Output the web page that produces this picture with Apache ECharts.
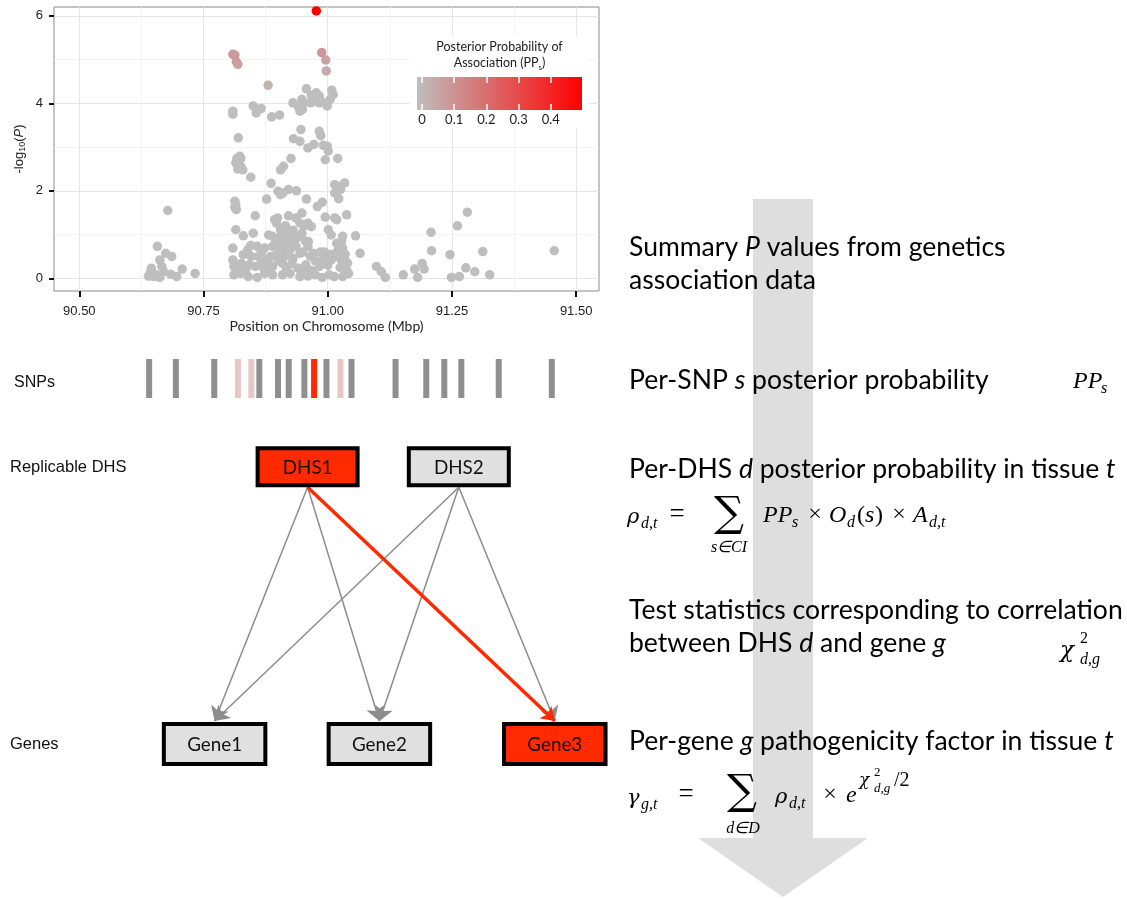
<!DOCTYPE html>
<html><head><meta charset="utf-8">
<script src="https://cdn.jsdelivr.net/npm/echarts@6/dist/echarts.min.js"></script>
<style>html,body{margin:0;padding:0;background:#fff}#c{width:1127px;height:899px}</style>
</head><body><div id="c"></div>
<script>
// ---------------- DATA ----------------
// SNP positions (Mbp), -log10(P), posterior probability of association
const posMbp = [
  90.678,90.657,90.674,90.686,90.662,90.645,90.639,90.650,90.662,90.670,90.684,90.696,90.707,90.733,90.643,90.666,90.655,
  90.809,90.809,90.820,90.823,90.815,90.825,90.829,90.819,90.813,90.815,90.816,90.813,90.815,90.809,90.809,90.811,90.811,90.819,90.817,90.825,
  90.850,90.858,90.866,90.856,90.887,90.903,90.845,90.886,90.905,90.911,90.926,90.900,90.905,90.921,90.937,90.910,90.877,90.854,90.921,90.948,
  90.957,90.931,90.944,90.946,90.930,90.940,90.948,90.949,90.952,90.957,90.944,90.966,90.967,90.977,90.983,90.987,90.983,90.975,90.999,91.008,
  91.011,91.005,90.960,90.972,90.983,90.986,90.991,90.999,91.001,90.995,91.020,91.014,91.022,91.034,91.014,91.022,91.026,91.018,90.979,90.989,
  90.995,91.018,91.038,91.014,90.960,90.967,90.944,90.936,90.952,91.001,91.007,91.030,91.056,91.065,90.830,90.850,90.881,90.893,90.899,90.928,
  90.948,90.961,90.897,90.905,90.913,90.889,90.917,90.936,90.830,90.839,90.846,90.858,90.866,90.873,90.885,90.889,90.897,90.905,90.913,90.924,
  90.936,90.944,90.960,90.971,90.993,91.010,91.020,91.028,91.035,90.826,90.842,90.854,90.866,90.877,90.889,90.909,90.917,90.928,90.940,90.956,
  90.967,90.983,90.995,91.007,91.014,91.022,91.030,91.034,91.038,90.825,90.840,90.858,90.873,90.889,90.909,90.924,90.944,90.960,90.975,90.989,
  91.003,91.013,91.030,91.042,90.900,90.912,90.920,90.895,90.870,90.880,90.975,90.990,91.000,91.025,91.040,90.950,90.930,
  91.025,91.032,91.018,91.028,91.005,90.985,90.905,90.915,90.930,90.940,90.925,90.955,90.870,90.860,90.845,90.835,90.900,90.918,90.950,90.965,
  91.098,91.108,91.116,91.152,91.175,91.181,91.190,91.194,91.208,91.209,91.246,91.249,91.265,91.261,91.281,91.278,91.296,91.312,91.326,91.456,
  90.880,90.997,90.819,90.816,90.996,90.813,90.809,90.988,90.977
];
const negLog10P = [
  1.55,0.73,0.57,0.50,0.42,0.23,0.05,0.04,0.02,0.15,0.09,0.04,0.21,0.11,0.15,0.27,0.08,
  3.82,3.75,3.21,2.79,2.64,2.56,2.48,2.50,1.76,1.68,1.57,1.62,1.11,0.69,0.42,0.27,0.08,0.19,2.74,2.74,
  3.94,3.86,3.88,3.78,3.69,3.73,2.31,2.17,2.48,2.56,2.74,1.99,1.91,2.03,2.00,1.95,1.81,1.43,1.43,1.49,
  1.81,3.19,3.13,3.40,4.01,3.94,4.09,3.86,4.01,4.33,3.82,4.01,4.18,4.24,4.17,4.05,4.01,4.15,3.94,4.30,
  4.20,4.09,2.98,3.06,3.36,3.26,3.04,3.02,2.91,2.71,2.74,2.14,2.10,2.18,1.95,1.82,2.03,1.99,1.64,1.74,
  1.40,1.34,1.45,1.38,1.26,1.18,1.26,1.38,1.20,1.11,0.99,0.96,0.97,0.57,0.97,1.03,0.99,1.34,1.38,1.03,
  1.03,0.84,1.26,1.11,1.05,0.96,0.92,0.90,0.54,0.65,0.50,0.73,0.57,0.69,0.50,0.73,0.54,0.69,0.50,0.65,
  0.73,0.57,0.73,0.57,0.60,0.52,0.62,0.70,0.55,0.34,0.31,0.27,0.34,0.19,0.27,0.34,0.23,0.34,0.23,0.31,
  0.18,0.27,0.34,0.42,0.50,0.57,0.69,0.42,0.19,0.11,0.04,0.02,0.11,0.08,0.08,0.11,0.04,0.05,0.08,0.02,
  0.08,0.04,0.04,0.11,0.88,0.80,0.75,0.80,0.45,0.35,0.40,0.45,0.30,0.25,0.35,0.60,0.45,
  0.45,0.30,0.80,0.85,0.55,0.60,0.95,1.20,1.10,0.95,0.85,0.85,0.25,0.50,0.75,0.20,0.40,0.58,0.15,0.50,
  0.27,0.15,0.02,0.08,0.21,0.02,0.34,0.21,1.05,0.63,0.54,0.02,0.04,1.20,1.51,0.24,0.15,0.61,0.08,0.63,
  4.41,4.74,4.89,4.95,4.99,5.10,5.12,5.16,6.11
];
const postProb = [
  0,0,0,0,0,0,0,0,0,0,0,0,0,0,0,0,0,
  0,0,0,0,0,0,0,0,0,0,0,0,0,0,0,0,0,0,0,0,
  0,0,0,0,0,0,0,0,0,0,0,0,0,0,0,0,0,0,0,0,
  0,0,0,0,0,0,0,0,0,0,0,0,0,0,0,0,0,0,0,0,
  0,0,0,0,0,0,0,0,0,0,0,0,0,0,0,0,0,0,0,0,
  0,0,0,0,0,0,0,0,0,0,0,0,0,0,0,0,0,0,0,0,
  0,0,0,0,0,0,0,0,0,0,0,0,0,0,0,0,0,0,0,0,
  0,0,0,0,0,0,0,0,0,0,0,0,0,0,0,0,0,0,0,0,
  0,0,0,0,0,0,0,0,0,0,0,0,0,0,0,0,0,0,0,0,
  0,0,0,0,0,0,0,0,0,0,0,0,0,0,0,0,0,
  0,0,0,0,0,0,0,0,0,0,0,0,0,0,0,0,0,0,0,0,
  0,0,0,0,0,0,0,0,0,0,0,0,0,0,0,0,0,0,0,0,
  0.03,0.05,0.07,0.08,0.07,0.09,0.09,0.10,0.49
];
const xTicks = [90.5, 90.75, 91.0, 91.25, 91.5];
const xMinorTicks = [90.625, 90.875, 91.125, 91.375];
const yTicks = [0, 2, 4, 6];
const yMinorTicks = [1, 3, 5];
const ppTicks = [0, 0.1, 0.2, 0.3, 0.4];

// SNP track: positions (Mbp) and PP class
const snpPos = [90.6405,90.6943,90.7716,90.8193,90.8462,90.8623,90.8999,90.9214,90.9530,90.9725,90.9974,91.0256,91.0478,91.1365,91.1983,91.2346,91.2689,91.3442,91.4510];
const snpPP  = [0,0,0,0.08,0.08,0,0,0,0,0.49,0,0.08,0,0,0,0,0,0,0];

// Network: DHS -> gene links
const dhsNames = ['DHS1', 'DHS2'];
const dhsSelected = [1, 0];
const geneNames = ['Gene1', 'Gene2', 'Gene3'];
const geneSelected = [0, 0, 1];
const linkSrc = [0, 0, 0, 1, 1, 1];
const linkDst = [0, 1, 2, 0, 1, 2];

// ---------------- LAYOUT ----------------
const L = {
  dhsX: [307.6, 458.8], dhsY: 466.7, dhsW: 104, dhsH: 41,
  geneX: [214.6, 379.4, 554.8], geneY: 744, geneW: 105.5, geneH: 44
};
const RED = '#ff2a00', BOXGRAY = '#e0e0e0';

const ctx = document.createElement('canvas').getContext('2d');
function fit(text, family, target, style) {
  ctx.font = (style || '') + ' 100px ' + family;
  return 100 * target / ctx.measureText(text).width;
}
const bodyFs = fit('Test statistics corresponding to correlation', 'Lato', 494);
const boxFs = fit('Gene1', 'Lato', 55);

const scatterData = posMbp.map((x, i) => [x, negLog10P[i], postProb[i]]);
const snpData = snpPos.map((x, i) => [x, snpPP[i]]);
function snpColor(pp) { return pp >= 0.3 ? RED : (pp > 0.01 ? '#e8c6c6' : '#8f8f8f'); }

const nodeData = [];
dhsNames.forEach((n, i) => nodeData.push({ name: n, value: [L.dhsX[i], L.dhsY, L.dhsW, L.dhsH, dhsSelected[i]] }));
geneNames.forEach((n, i) => nodeData.push({ name: n, value: [L.geneX[i], L.geneY, L.geneW, L.geneH, geneSelected[i]] }));

const grayLinks = [], redLinks = [];
linkSrc.forEach((s, k) => {
  const d = linkDst[k];
  const item = { coords: [[L.dhsX[s], L.dhsY + L.dhsH / 2], [L.geneX[d], L.geneY - L.geneH / 2 - 1]] };
  (dhsSelected[s] && geneSelected[d] ? redLinks : grayLinks).push(item);
});

const xMin = 90.449, xMax = 91.546;
const serif = 'Liberation Serif', greek = 'DejaVu Serif';
function T(text, x, y, st, z) {
  return { type: 'text', x: x, y: y, z: z == null ? 10 : z,
    style: Object.assign({ text: text, fill: '#000', textAlign: 'left', textVerticalAlign: 'middle' }, st) };
}
// math glyph helper: it = italic
function M(text, x, y, size, it, align, fam) {
  return T(text, x, y, { fontFamily: fam || serif, fontStyle: it ? 'italic' : 'normal', fontSize: size, textAlign: align || 'left' });
}
const body = { fontFamily: 'Lato', fontSize: bodyFs, rich: { i: { fontFamily: 'Lato', fontStyle: 'italic', fontSize: bodyFs } } };
const MS = 24, SS = 16, GS = 21;
const y1 = 516, y2 = 796;

const graphics = [
  // big flow arrow
  { type: 'polygon', z: 0, shape: { points: [[753,199],[813,199],[813,838],[868,838],[783,897],[698,838],[753,838]] }, style: { fill: '#dedede' } },
  // legend background & colour bar
  { type: 'rect', z: 1, shape: { x: 410, y: 36, width: 178, height: 92 }, style: { fill: '#fff' } },
  { type: 'rect', z: 2, shape: { x: 417, y: 77, width: 165, height: 33 },
    style: { fill: { type: 'linear', x: 0, y: 0, x2: 1, y2: 0, colorStops: [{ offset: 0, color: '#bebebe' }, { offset: 1, color: '#ff0000' }] } } },
  T('Posterior Probability of', 499.5, 47, { fontFamily: 'Lato', fontSize: 12.5, textAlign: 'center', fill: '#222' }, 3),
  T('{n|Association (PP}{s|s}{n|)}', 499.5, 63, { textAlign: 'center', fill: '#222',
    rich: { n: { fontFamily: 'Lato', fontSize: 12.5, lineHeight: 16, verticalAlign: 'middle' }, s: { fontFamily: 'Lato', fontSize: 8, lineHeight: 8, verticalAlign: 'bottom' } } }, 3),
  // left labels
  T('SNPs', 14, 383, { fontFamily: 'Liberation Sans', fontSize: 16, fill: '#111' }),
  T('Replicable DHS', 10, 467, { fontFamily: 'Liberation Sans', fontSize: 16.5, fill: '#111' }),
  T('Genes', 10, 744, { fontFamily: 'Liberation Sans', fontSize: 16.5, fill: '#111' }),
  // right descriptions
  T('Summary {i|P} values from genetics', 629, 247, body),
  T('association data', 629, 280, body),
  T('Per-SNP {i|s} posterior probability', 629, 380, body),
  T('Per-DHS {i|d} posterior probability in tissue {i|t}', 629, 469, body),
  T('Test statistics corresponding to correlation', 629, 610, body),
  T('between DHS {i|d} and gene {i|g}', 629, 643, body),
  T('Per-gene {i|g} pathogenicity factor in tissue {i|t}', 629, 741, body),
  // PP_s
  M('PP', 1073, 382, MS, true), M('s', 1101, 389, SS, true),
  // rho formula
  M('ρ', 627, y1 + 2, GS, true, 'left', greek), M('d,t', 641, y1 + 8, SS, true),
  M('=', 677, y1 - 1, 27, false, 'center'),
  M('∑', 729, y1 - 1, 42, false, 'center', 'DejaVu Serif'),
  M('s∈CI', 729, y1 + 32, SS, true, 'center'),
  M('PP', 763, y1, MS, true), M('s', 792, y1 + 7, SS, true),
  M('×', 815, y1 - 1, MS, false, 'center'),
  M('O', 829, y1, MS, true), M('d', 847, y1 + 7, SS, true),
  M('(', 857, y1, MS, false), M('s', 865, y1, MS, true), M(')', 875, y1, MS, false),
  M('×', 899, y1 - 1, MS, false, 'center'),
  M('A', 913, y1, MS, true), M('d,t', 929, y1 + 7, SS, true),
  // chi-square
  M('χ', 1060, 651, GS + 2, true, 'left', greek), M('2', 1080, 639, SS, false), M('d,g', 1080, 660, SS, true),
  // gamma formula
  M('γ', 627, y2 + 3, GS, true, 'left', greek), M('g,t', 641, y2 + 9, SS, true),
  M('=', 686, y2 - 1, 27, false, 'center'),
  M('∑', 742, y2 - 3, 42, false, 'center', 'DejaVu Serif'),
  M('d∈D', 743, y2 + 33, SS, true, 'center'),
  M('ρ', 775, y2 + 2, GS, true, 'left', greek), M('d,t', 789, y2 + 8, SS, true),
  M('×', 830, y2 - 1, MS, false, 'center'),
  M('e', 846, y2, MS, true),
  M('χ', 859, y2 - 15, 17, true, 'left', greek), M('2', 874, y2 - 23, 13, false), M('d,g', 874, y2 - 7, 13, true), M('/2', 894, y2 - 15, 20, false)
];

const option = {
  animation: false,
  backgroundColor: '#fff',
  grid: [
    { left: 54, top: 7, width: 545, height: 284, show: true, borderColor: '#888', borderWidth: 1, backgroundColor: 'transparent', containLabel: false, outerBoundsMode: 'none' },
    { left: 54, top: 359, width: 545, height: 39, containLabel: false, outerBoundsMode: 'none' },
    { left: 417, top: 77, width: 165, height: 33, containLabel: false, outerBoundsMode: 'none' },
    { left: 0, top: 0, width: 1127, height: 899, containLabel: false, outerBoundsMode: 'none' }
  ],
  visualMap: { type: 'continuous', show: false, seriesIndex: 0, dimension: 2, min: 0, max: 0.49, inRange: { color: ['#bebebe', '#ff0000'] } },
  xAxis: [
    { type: 'value', gridIndex: 0, min: xMin, max: xMax, position: 'bottom',
      axisLine: { show: false, onZero: false },
      axisTick: { show: true, length: 6, customValues: xTicks, lineStyle: { color: '#111', width: 2 } },
      axisLabel: { customValues: xTicks, formatter: v => v.toFixed(2), margin: 14, fontFamily: 'Liberation Sans', fontSize: 13, color: '#222' },
      splitLine: { show: true, lineStyle: { color: '#e6e6e6', width: 1 } },
      name: 'Position on Chromosome (Mbp)', nameLocation: 'middle', nameGap: 28, nameMoveOverlap: false,
      nameTextStyle: { fontFamily: 'Lato', fontSize: 14, color: '#222' } },
    { type: 'value', gridIndex: 0, min: xMin, max: xMax, position: 'top',
      axisLine: { show: false, onZero: false }, axisTick: { show: false, customValues: xMinorTicks }, axisLabel: { show: false, customValues: xMinorTicks },
      splitLine: { show: true, lineStyle: { color: '#f3f3f3', width: 1 } } },
    { type: 'value', gridIndex: 1, min: xMin, max: xMax, show: false },
    { type: 'value', gridIndex: 2, min: -0.0155, max: 0.4969, position: 'bottom', z: 20,
      axisLine: { show: false, onZero: false },
      axisTick: { show: true, inside: true, length: 6, customValues: ppTicks, lineStyle: { color: '#fff', width: 1.5 } },
      axisLabel: { customValues: ppTicks, formatter: v => (v === 0 ? '0' : v.toFixed(1)), margin: 3, fontFamily: 'Lato', fontSize: 13, color: '#222' },
      splitLine: { show: false } },
    { type: 'value', gridIndex: 2, min: -0.0155, max: 0.4969, position: 'top', z: 20,
      axisLine: { show: false, onZero: false },
      axisTick: { show: true, inside: true, length: 6, customValues: ppTicks, lineStyle: { color: '#fff', width: 1.5 } },
      axisLabel: { show: false, customValues: ppTicks }, splitLine: { show: false } },
    { type: 'value', gridIndex: 3, min: 0, max: 1127, show: false }
  ],
  yAxis: [
    { type: 'value', gridIndex: 0, min: -0.29, max: 6.201, position: 'left',
      axisLine: { show: false, onZero: false },
      axisTick: { show: true, length: 5, customValues: yTicks, lineStyle: { color: '#111', width: 2 } },
      axisLabel: { customValues: yTicks, margin: 11, fontFamily: 'Liberation Sans', fontSize: 13, color: '#222' },
      splitLine: { show: true, lineStyle: { color: '#e6e6e6', width: 1 } },
      name: '{a|-log}{s|10}{a|(}{i|P}{a|)}', nameLocation: 'middle', nameGap: 27, nameRotate: 90, nameMoveOverlap: false,
      nameTextStyle: { color: '#222', rich: {
        a: { fontFamily: 'Liberation Sans', fontSize: 13, lineHeight: 16, verticalAlign: 'middle', color: '#222' },
        i: { fontFamily: 'Liberation Sans', fontStyle: 'italic', fontSize: 13, lineHeight: 16, verticalAlign: 'middle', color: '#222' },
        s: { fontFamily: 'Liberation Sans', fontSize: 9, lineHeight: 9, verticalAlign: 'bottom', color: '#222' } } } },
    { type: 'value', gridIndex: 0, min: -0.29, max: 6.201, position: 'right',
      axisLine: { show: false, onZero: false }, axisTick: { show: false, customValues: yMinorTicks }, axisLabel: { show: false, customValues: yMinorTicks },
      splitLine: { show: true, lineStyle: { color: '#f3f3f3', width: 1 } } },
    { type: 'value', gridIndex: 1, min: 0, max: 1, show: false },
    { type: 'value', gridIndex: 2, min: 0, max: 1, show: false },
    { type: 'value', gridIndex: 3, min: 0, max: 899, inverse: true, show: false }
  ],
  graphic: graphics,
  series: [
    { type: 'scatter', xAxisIndex: 0, yAxisIndex: 0, data: scatterData, symbolSize: 9.5, z: 5,
      itemStyle: { opacity: 1, borderWidth: 0 }, silent: true },
    { type: 'custom', xAxisIndex: 2, yAxisIndex: 2, data: snpData, encode: { x: 0, y: 1 }, silent: true,
      renderItem: function (params, api) {
        const x = api.value(0);
        const top = api.coord([x, 1]), bot = api.coord([x, 0]);
        return { type: 'rect', shape: { x: top[0] - 3, y: top[1], width: 6, height: bot[1] - top[1] },
          style: { fill: snpColor(api.value(1)) } };
      } },
    { type: 'lines', coordinateSystem: 'cartesian2d', xAxisIndex: 5, yAxisIndex: 4, data: grayLinks, z: 3, silent: true,
      symbol: ['none', 'arrow'], symbolSize: 14, lineStyle: { color: '#8c8c8c', width: 1.5, opacity: 1, curveness: 0 } },
    { type: 'lines', coordinateSystem: 'cartesian2d', xAxisIndex: 5, yAxisIndex: 4, data: redLinks, z: 4, silent: true,
      symbol: ['none', 'arrow'], symbolSize: 13, lineStyle: { color: RED, width: 3.5, opacity: 1, curveness: 0 } },
    { type: 'custom', xAxisIndex: 5, yAxisIndex: 4, data: nodeData, encode: { x: 0, y: 1 }, z: 6, silent: true,
      renderItem: function (params, api) {
        const c = api.coord([api.value(0), api.value(1)]);
        const w = api.value(2), h = api.value(3), sel = api.value(4);
        return { type: 'group', children: [
          { type: 'rect', shape: { x: c[0] - w / 2 + 2, y: c[1] - h / 2 + 2, width: w - 4, height: h - 4 },
            style: { fill: sel ? RED : BOXGRAY, stroke: '#000', lineWidth: 4 } },
          { type: 'text', x: c[0], y: c[1] + 1, style: { text: nodeData[params.dataIndex].name, fontFamily: 'Lato', fontSize: boxFs, fill: '#111', align: 'center', verticalAlign: 'middle' } }
        ] };
      } }
  ]
};
const chart = echarts.init(document.getElementById('c'));
chart.setOption(option);
</script>
</body></html>
